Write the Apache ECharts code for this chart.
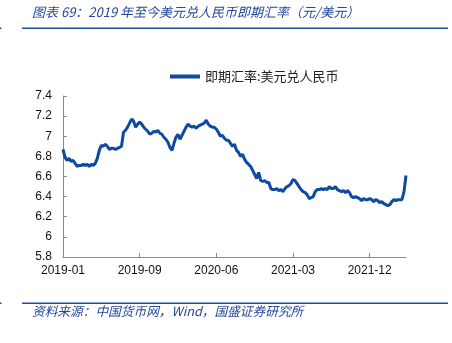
<!DOCTYPE html>
<html>
<head>
<meta charset="utf-8">
<script src="https://cdn.jsdelivr.net/npm/echarts@6/dist/echarts.min.js"></script>
<style>
  html, body { margin: 0; padding: 0; background: #fff; }
  #chart { width: 452px; height: 343px; }
</style>
</head>
<body>
<div id="chart"></div>
<script>
// Weekly USD/CNY spot fixing readings, starting the first Friday of 2019
const startDate = '2019-01-04';
const seriesName = '即期汇率:美元兑人民币';
const usdCny = [
  6.87, 6.79, 6.76, 6.78, 6.75, 6.76, 6.73, 6.70, 6.71, 6.71,
  6.72, 6.71, 6.72, 6.70, 6.72, 6.71, 6.73, 6.78, 6.86, 6.91,
  6.90, 6.92, 6.90, 6.87, 6.88, 6.88, 6.87, 6.88, 6.89, 6.90,
  7.04, 7.06, 7.09, 7.13, 7.17, 7.15, 7.09, 7.12, 7.14, 7.12,
  7.09, 7.07, 7.05, 7.02, 7.03, 7.05, 7.04, 7.06, 7.03, 7.02,
  6.99, 6.97, 6.94, 6.89, 6.86, 6.93, 6.99, 7.02, 6.97, 7.01,
  7.05, 7.09, 7.12, 7.10, 7.09, 7.10, 7.08, 7.10, 7.11, 7.12,
  7.13, 7.16, 7.12, 7.10, 7.09, 7.09, 7.07, 7.04, 7.00, 7.01,
  6.98, 6.96, 6.96, 6.93, 6.90, 6.92, 6.86, 6.84, 6.80, 6.82,
  6.77, 6.74, 6.72, 6.70, 6.66, 6.62, 6.58, 6.64, 6.56, 6.55,
  6.56, 6.54, 6.54, 6.48, 6.47, 6.47, 6.48, 6.46, 6.47, 6.45,
  6.48, 6.50, 6.51, 6.53, 6.57, 6.56, 6.53, 6.50, 6.47, 6.45,
  6.44, 6.42, 6.38, 6.39, 6.40, 6.45, 6.47, 6.47, 6.48, 6.47,
  6.48, 6.47, 6.50, 6.48, 6.48, 6.50, 6.47, 6.46, 6.45, 6.46,
  6.44, 6.46, 6.44, 6.40, 6.39, 6.40, 6.39, 6.38, 6.36, 6.38,
  6.37, 6.37, 6.38, 6.37, 6.35, 6.37, 6.36, 6.34, 6.35, 6.33,
  6.32, 6.31, 6.32, 6.35, 6.37, 6.36, 6.37, 6.37, 6.37, 6.45,
  6.61
];
const yTicks = { min: 5.8, max: 7.4, step: 0.2 };

// Week-ending dates for each reading
function pad(n) { return n < 10 ? '0' + n : '' + n; }
const weeks = [];
const d0 = new Date(startDate + 'T00:00:00Z');
for (let i = 0; i < usdCny.length; i++) {
  const d = new Date(d0.getTime() + i * 7 * 86400000);
  weeks.push(d.getUTCFullYear() + '-' + pad(d.getUTCMonth() + 1) + '-' + pad(d.getUTCDate()));
}

const blue = '#0e4aa0';
const textBlue = '#24489a';
const axisGrey = '#8c8c8c';
const latin = '"Liberation Sans", Arial, sans-serif';
const cjk = '"Noto Sans CJK SC", sans-serif';

const chart = echarts.init(document.getElementById('chart'), null, { renderer: 'canvas' });
chart.setOption({
  animation: false,
  backgroundColor: '#ffffff',
  grid: { left: 63, right: 46, top: 96, bottom: 86, containLabel: false },
  legend: {
    data: [seriesName],
    left: 165,
    top: 65,
    itemWidth: 30,
    itemHeight: 14,
    textStyle: { fontFamily: cjk, fontSize: 13, color: '#222' },
    icon: 'path://M0,0 L30,0 L30,4 L0,4 Z'
  },
  xAxis: {
    type: 'category',
    data: weeks,
    boundaryGap: false,
    axisLine: { lineStyle: { color: axisGrey, width: 1 } },
    axisTick: { show: true, inside: true, length: 4, interval: 37, lineStyle: { color: axisGrey } },
    axisLabel: {
      interval: 37,
      hideOverlap: false,
      margin: 8,
      color: '#111',
      fontFamily: latin,
      fontSize: 12,
      formatter: v => v.slice(0, 7)
    },
    splitLine: { show: false }
  },
  yAxis: {
    type: 'value',
    min: yTicks.min,
    max: yTicks.max,
    interval: yTicks.step,
    axisLine: { show: true, lineStyle: { color: axisGrey, width: 1 } },
    axisTick: { show: true, inside: true, length: 4, lineStyle: { color: axisGrey } },
    axisLabel: {
      margin: 11,
      color: '#111',
      fontFamily: latin,
      fontSize: 12,
      formatter: v => String(+v.toFixed(1))
    },
    splitLine: { show: false }
  },
  series: [{
    name: seriesName,
    type: 'line',
    data: usdCny,
    showSymbol: false,
    symbol: 'none',
    lineStyle: { color: blue, width: 3 },
    itemStyle: { color: blue }
  }],
  graphic: [
    {
      type: 'text',
      left: 32, top: 6,
      style: {
        text: '图表 69：2019 年至今美元兑人民币即期汇率（元/美元）',
        font: 'italic 13px ' + cjk,
        fill: textBlue
      }
    },
    { type: 'rect', shape: { x: 22, y: 27.5, width: 426, height: 1.5 }, style: { fill: '#1c4f9e' } },
    { type: 'rect', shape: { x: 0, y: 27.5, width: 1.5, height: 1.5 }, style: { fill: '#1c4f9e' } },
    { type: 'rect', shape: { x: 22, y: 302.5, width: 426, height: 1.5 }, style: { fill: '#1c4f9e' } },
    { type: 'rect', shape: { x: 0, y: 302.5, width: 1.5, height: 1.5 }, style: { fill: '#1c4f9e' } },
    {
      type: 'text',
      left: 32, top: 305,
      style: {
        text: '资料来源：中国货币网，Wind，国盛证券研究所',
        font: 'italic 12.7px ' + cjk,
        fill: textBlue
      }
    }
  ]
});
</script>
</body>
</html>
